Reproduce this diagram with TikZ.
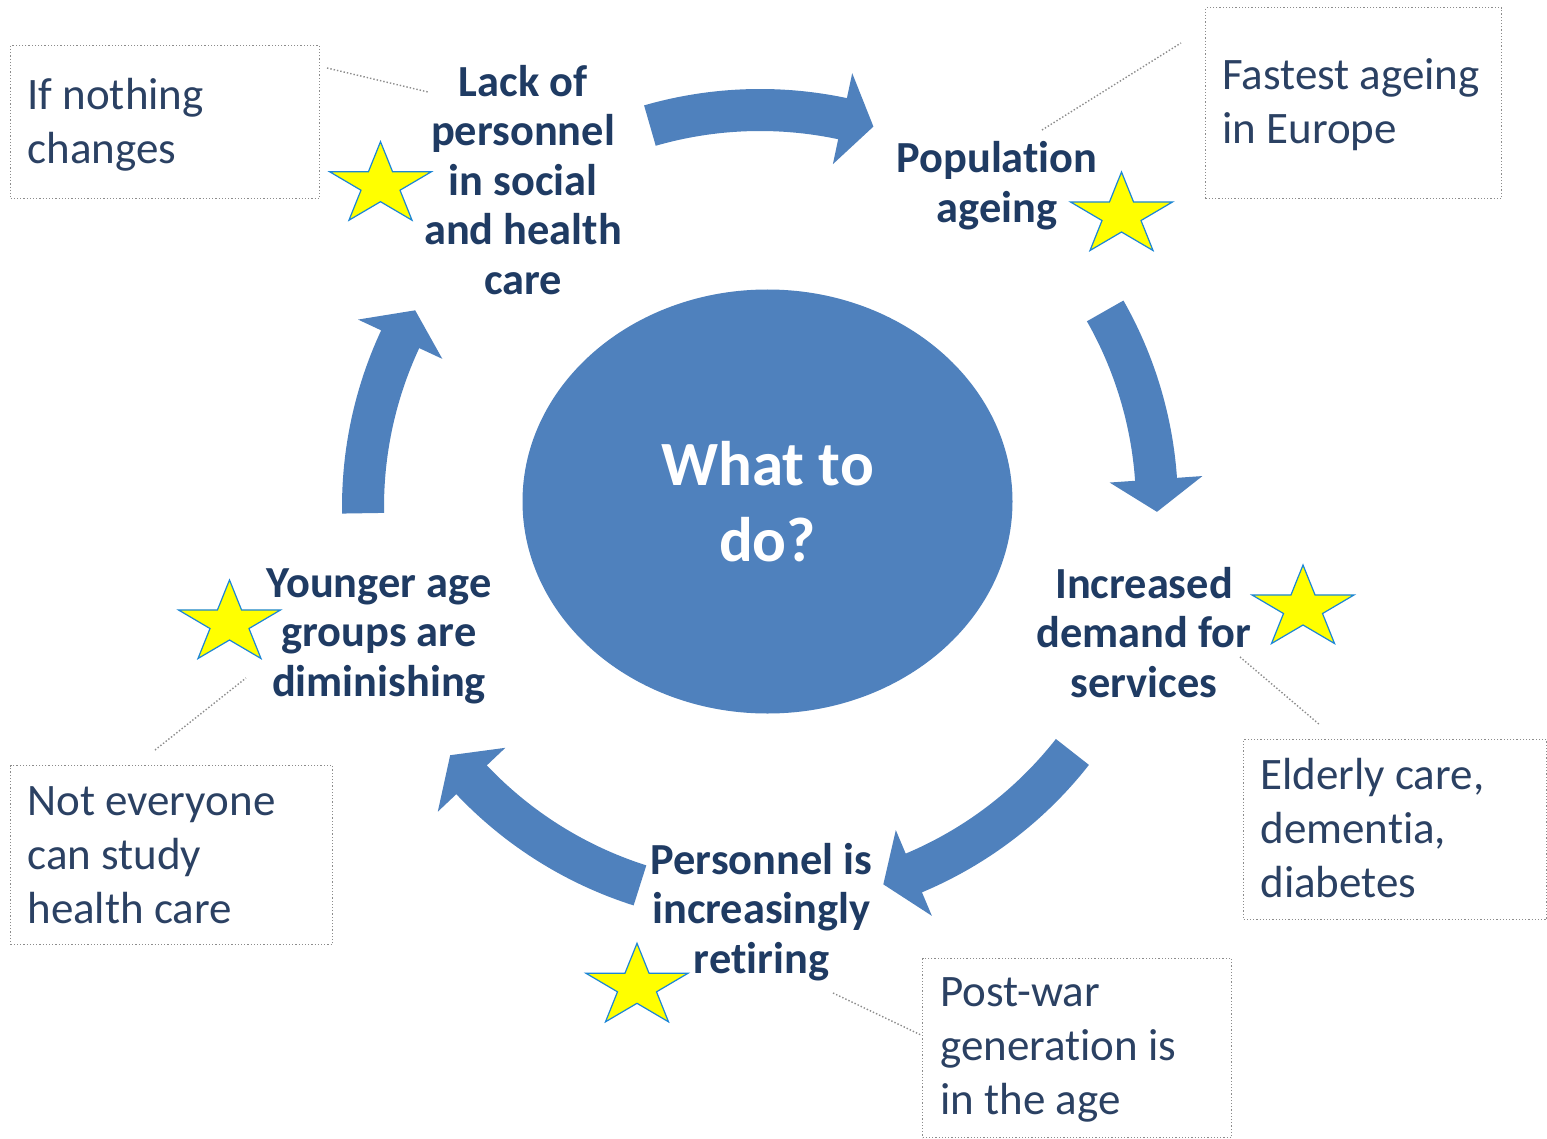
\documentclass[tikz,border=0pt]{standalone}
\usepackage{fontspec}
\setmainfont{Carlito}[Ligatures={NoCommon}]
\usetikzlibrary{shapes.geometric}
\definecolor{arrowblue}{HTML}{4F81BD}
\definecolor{labelnavy}{HTML}{1F3B63}
\definecolor{boxtext}{HTML}{2B4163}
\definecolor{starblue}{HTML}{1C86D6}
\definecolor{starfill}{HTML}{FFFF00}
\definecolor{linegray}{HTML}{8C8C8C}
\newcommand\cycarc[3]{%
  \fill[arrowblue] (#1:418) arc[start angle=#1, end angle=#2, radius=418]
    -- (#2:443.5) -- (#3:397) -- (#2:350.5) -- (#2:376)
    arc[start angle=#2, end angle=#1, radius=376] -- cycle;}
\begin{document}
\begin{tikzpicture}[x=0.5pt,y=-0.5pt,
  cyclabel/.style={align=center, text=labelnavy, inner sep=0pt,
    font=\fontsize{22.2pt}{24.75pt}\selectfont\bfseries},
  infotext/.style={align=left, text=boxtext, inner sep=0pt, anchor=west,
    font=\fontsize{22.5pt}{27pt}\selectfont},
  infobox/.style={draw=linegray, densely dotted, line width=0.6pt, inner sep=0pt, anchor=north west},
  leader/.style={draw=linegray, densely dotted, line width=0.7pt},
  starshape/.style={fill=starfill, draw=starblue, line width=0.6pt},
  ystar/.pic={\filldraw[starshape, xscale=1.235]
    (-90:43.4) -- (-54:16.6) -- (-18:43.4) -- (18:16.6) -- (54:43.4) -- (90:16.6)
    -- (126:43.4) -- (162:16.6) -- (198:43.4) -- (234:16.6) -- cycle;},
]
\useasboundingbox (0,0) rectangle (1547,1139);
\fill[white] (0,0) rectangle (1547,1139);

% central ellipse
\node[ellipse, fill=arrowblue, inner sep=0pt, minimum width=245pt, minimum height=212pt,
  text=white, align=center, font=\fontsize{31.5pt}{38pt}\selectfont\bfseries]
  (hub) at (767.5,501.5) {What to\\do?};

% circular arrows
\begin{scope}[shift={(760,507)}]
  \cycarc{253.9}{282.0}{286.6}
  \cycarc{330.4}{356.0}{360.7}
  \cycarc{38.1}{67.2}{71.9}
  \cycarc{107.6}{136.6}{141.3}
  \cycarc{179.1}{205.0}{209.7}
\end{scope}

% cycle labels
\node[cyclabel] (lack) at (523,185.6) {\strut Lack of\\personnel\\in social\\and health\\care\strut};
\node[cyclabel] (pop) at (997,187.6) {\strut Population\\ageing\strut};
\node[cyclabel] (dem) at (1144,637.6) {\strut Increased\\demand for\\services\strut};
\node[cyclabel] (ret) at (761.5,914) {\strut Personnel is\\increasingly\\retiring\strut};
\node[cyclabel] (young) at (379,637) {\strut Younger age\\groups are\\diminishing\strut};

% info boxes
\node[infobox, minimum width=154.5pt, minimum height=76.5pt] (box1) at (10,45) {};
\node[infobox, minimum width=148pt, minimum height=95.5pt] (box2) at (1205,7) {};
\node[infobox, minimum width=151.5pt, minimum height=90pt] (box3) at (1243,739) {};
\node[infobox, minimum width=154.5pt, minimum height=89.5pt] (box4) at (922,958) {};
\node[infobox, minimum width=161pt, minimum height=89.5pt] (box5) at (10,765) {};

\node[infotext] (t1) at (27,125.6) {\strut If nothing\\changes\strut};
\node[infotext] (t2) at (1222,105.9) {\strut Fastest ageing\\in Europe\strut};
\node[infotext] (t3) at (1260,832.2) {\strut Elderly care,\\dementia,\\diabetes\strut};
\node[infotext] (t4) at (940,1049.7) {\strut Post-war\\generation is\\in the age\strut};
\node[infotext] (t5) at (27,858.2) {\strut Not everyone\\can study\\health care\strut};

% leader lines
\coordinate (l1a) at (327,68);   \coordinate (l1b) at (428,92);
\coordinate (l2a) at (1042,130); \coordinate (l2b) at (1181,43);
\coordinate (l3a) at (1240,657); \coordinate (l3b) at (1320,725);
\coordinate (l4a) at (155,750);  \coordinate (l4b) at (246,678);
\coordinate (l5a) at (833,993);  \coordinate (l5b) at (921,1035);
\draw[leader] (l1a) -- (l1b);
\draw[leader] (l2a) -- (l2b);
\draw[leader] (l3a) -- (l3b);
\draw[leader] (l4a) -- (l4b);
\draw[leader] (l5a) -- (l5b);

% stars
\pic at (380.5,185.1) {ystar};
\pic at (1121.5,215.4) {ystar};
\pic at (1303,608.4) {ystar};
\pic at (229.5,623.4) {ystar};
\pic at (637,986.7) {ystar};
\end{tikzpicture}
\end{document}
